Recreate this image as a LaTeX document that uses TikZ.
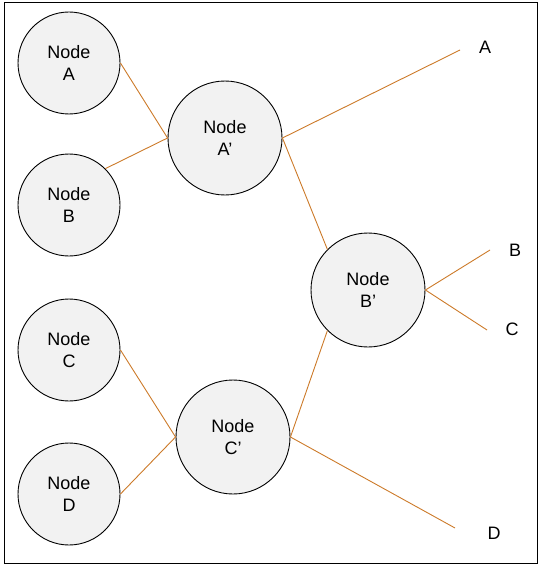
\documentclass[tikz,border=0pt]{standalone}
\usepackage{fontspec}
\setmainfont{Liberation Sans}
\definecolor{nodefill}{RGB}{242,242,242}
\definecolor{edgecol}{RGB}{204,122,41}
\begin{document}
\begin{tikzpicture}[x=1pt,y=-1pt,
  leaf/.style={circle, draw=black, fill=nodefill, line width=0.9pt,
    minimum size=102pt, inner sep=0pt, align=center,
    font=\fontsize{18}{21.5}\selectfont},
  inner/.style={leaf, minimum size=114pt},
  lbl/.style={inner sep=0pt, font=\fontsize{18}{21}\selectfont},
  edge/.style={draw=edgecol, line width=0.9pt}]
  \useasboundingbox (0,0) rectangle (542,567);
  \draw[line width=1pt] (4,3) rectangle (537,563);

  % leaves on the left
  \node[leaf] (a) at (69,63)  {Node\\A};
  \node[leaf] (b) at (69,205) {Node\\B};
  \node[leaf] (c) at (69,350) {Node\\C};
  \node[leaf] (d) at (69,494) {Node\\D};

  % internal nodes
  \node[inner] (ap) at (225,138) {Node\\A’};
  \node[inner] (bp) at (368,290) {Node\\B’};
  \node[inner] (cp) at (233,437) {Node\\C’};

  % outputs on the right
  \node[lbl] (la) at (485,47)  {A};
  \node[lbl] (lb) at (515,250) {B};
  \node[lbl] (lc) at (512,329) {C};
  \node[lbl] (ld) at (494,533) {D};
  \coordinate (ea) at (460,50);
  \coordinate (eb) at (490,250);
  \coordinate (ec) at (487,330);
  \coordinate (ed) at (455,528);

  % connectors
  \draw[edge] (a.east) -- (ap.west);
  \draw[edge] (b.45) -- (ap.west);
  \draw[edge] (c.east) -- (cp.west);
  \draw[edge] (d.east) -- (cp.west);
  \draw[edge] (ap.east) -- (bp.135);
  \draw[edge] (cp.east) -- (bp.225);
  \draw[edge] (ap.east) -- (ea);
  \draw[edge] (bp.east) -- (eb);
  \draw[edge] (bp.east) -- (ec);
  \draw[edge] (cp.east) -- (ed);
\end{tikzpicture}
\end{document}
